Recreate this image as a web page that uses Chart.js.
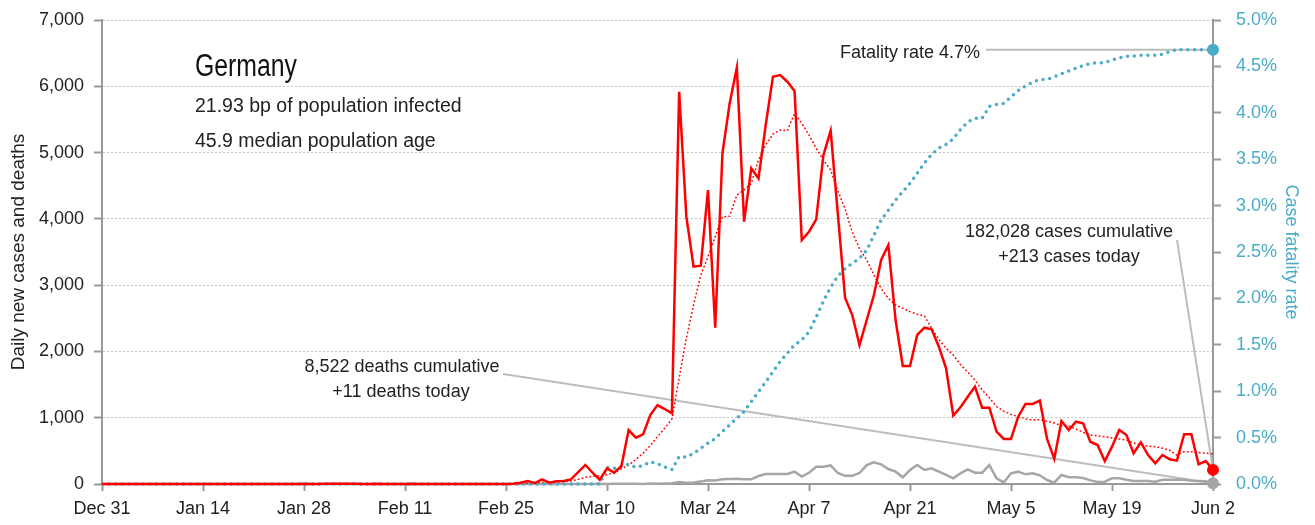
<!DOCTYPE html>
<html>
<head>
<meta charset="utf-8">
<script src="https://cdn.jsdelivr.net/npm/chart.js@4.4.1/dist/chart.umd.min.js"></script>
<style>
  html, body { margin: 0; padding: 0; background: #fff; }
  #wrap { width: 1315px; height: 525px; position: relative; }
</style>
</head>
<body>
<div id="wrap"><canvas id="chart"></canvas></div>
<script>
// Germany — daily cases, deaths and case fatality rate (Dec 31 to Jun 2)

const tickLabels = ['Dec 31', 'Jan 14', 'Jan 28', 'Feb 11', 'Feb 25', 'Mar 10',
    'Mar 24', 'Apr 7', 'Apr 21', 'May 5', 'May 19', 'Jun 2'];

const dailyCases = [
    0, 0, 0, 0, 0, 0, 0, 0, 0, 0,
    0, 0, 0, 0, 0, 0, 0, 0, 0, 0,
    0, 0, 0, 0, 0, 0, 0, 0, 4, 1,
    0, 3, 4, 4, 4, 2, 0, 0, 4, 0,
    0, 0, 0, 2, 0, 0, 0, 0, 0, 0,
    0, 0, 0, 0, 0, 0, 0, 5, 20, 45,
    15, 70, 20, 40, 45, 70, 180, 287, 170, 65,
    236, 171, 271, 814, 699, 749, 1040, 1191, 1131, 1066,
    5918, 4033, 3279, 3294, 4435, 2358, 4988, 5742, 6285, 3957,
    4762, 4611, 5416, 6145, 6170, 6069, 5928, 3681, 3806, 3993,
    4963, 5330, 4070, 2811, 2549, 2097, 2474, 2851, 3379, 3605,
    2474, 1780, 1780, 2248, 2358, 2333, 2071, 1745, 1031, 1157,
    1317, 1468, 1151, 1151, 789, 679, 679, 1016, 1207, 1207,
    1257, 679, 380, 950, 815, 940, 915, 638, 588, 347,
    563, 815, 739, 463, 629, 437, 312, 437, 372, 352,
    750, 750, 297, 347, 213
];

const casesAverage = [
    0, 0, 0, 0, 0, 0, 0, 0, 0, 0,
    0, 0, 0, 0, 0, 0, 0, 0, 0, 0,
    0, 0, 0, 0, 0, 0, 0, 0, 0, 0,
    0, 0, 0, 0, 0, 0, 0, 0, 0, 0,
    0, 0, 0, 0, 0, 0, 0, 0, 0, 0,
    0, 0, 0, 0, 0, 0, 0, 3, 5, 12,
    14, 24, 26, 32, 35, 45, 70, 100, 115, 125,
    140, 170, 230, 286, 370, 463, 580, 714, 840, 980,
    1600, 2200, 2700, 3150, 3430, 3730, 4030, 4040, 4360, 4435,
    4535, 4888, 5114, 5280, 5340, 5330, 5591, 5440, 5265, 5064,
    4888, 4737, 4420, 4150, 3800, 3550, 3379, 3153, 2950, 2800,
    2700, 2650, 2600, 2560, 2534, 2350, 2180, 2050, 1946, 1800,
    1690, 1569, 1420, 1300, 1167, 1100, 1050, 1016, 985, 965,
    970, 945, 920, 880, 875, 830, 780, 740, 725, 714,
    695, 680, 664, 620, 590, 570, 563, 540, 510, 437,
    487, 487, 475, 465, 452
];

const dailyDeaths = [
    0, 0, 0, 0, 0, 0, 0, 0, 0, 0,
    0, 0, 0, 0, 0, 0, 0, 0, 0, 0,
    0, 0, 0, 0, 0, 0, 0, 0, 0, 0,
    0, 0, 0, 0, 0, 0, 0, 0, 0, 0,
    0, 0, 0, 0, 0, 0, 0, 0, 0, 0,
    0, 0, 0, 0, 0, 0, 0, 0, 0, 0,
    0, 0, 0, 0, 0, 0, 0, 0, 0, 2,
    0, 3, 2, 5, 4, 1, 8, 4, 8, 11,
    31, 20, 21, 37, 55, 53, 71, 75, 80, 71,
    71, 120, 150, 150, 150, 150, 186, 111, 170, 261,
    261, 280, 166, 123, 123, 166, 286, 326, 296, 226,
    186, 101, 211, 286, 211, 236, 186, 136, 85, 161,
    221, 171, 171, 286, 85, 25, 161, 186, 146, 161,
    131, 60, 20, 136, 101, 100, 90, 55, 30, 35,
    85, 85, 65, 45, 45, 45, 35, 65, 65, 65,
    65, 50, 45, 40, 11
];

// case fatality rate, %
const fatalityRate = [
    0, 0, 0, 0, 0, 0, 0, 0, 0, 0,
    0, 0, 0, 0, 0, 0, 0, 0, 0, 0,
    0, 0, 0, 0, 0, 0, 0, 0, 0, 0,
    0, 0, 0, 0, 0, 0, 0, 0, 0, 0,
    0, 0, 0, 0, 0, 0, 0, 0, 0, 0,
    0, 0, 0, 0, 0, 0, 0, 0, 0, 0,
    0, 0, 0, 0, 0, 0, 0, 0, 0, 0,
    0.18, 0.17, 0.19, 0.215, 0.18, 0.2, 0.24, 0.22, 0.185, 0.155,
    0.295, 0.29, 0.33, 0.385, 0.44, 0.49, 0.565, 0.635, 0.71, 0.78,
    0.887, 0.995, 1.10, 1.21, 1.32, 1.41, 1.50, 1.55, 1.64, 1.80,
    1.97, 2.12, 2.24, 2.32, 2.38, 2.43, 2.52, 2.68, 2.845, 2.95,
    3.06, 3.15, 3.24, 3.35, 3.46, 3.55, 3.62, 3.66, 3.72, 3.82,
    3.90, 3.94, 3.94, 4.07, 4.09, 4.10, 4.17, 4.24, 4.29, 4.33,
    4.36, 4.36, 4.39, 4.42, 4.45, 4.48, 4.51, 4.53, 4.54, 4.54,
    4.57, 4.59, 4.61, 4.61, 4.62, 4.62, 4.62, 4.63, 4.66, 4.68,
    4.68, 4.68, 4.68, 4.68, 4.68
];

const totalCases = 182028;
const totalDeaths = 8522;
const infectedBp = '21.93';
const medianAge = '45.9';

// one category per day
const days = [];
const start = new Date(2019, 11, 31);
const monthNames = ['Jan', 'Feb', 'Mar', 'Apr', 'May', 'Jun', 'Jul', 'Aug', 'Sep', 'Oct', 'Nov', 'Dec'];
for (let i = 0; i < dailyCases.length; i++) {
    const d = new Date(start.getFullYear(), start.getMonth(), start.getDate() + i);
    days.push(monthNames[d.getMonth()] + ' ' + d.getDate());
}

const RED = '#ff0000';
const GREY = '#a6a6a6';
const TEAL = '#4bacc6';
const AXIS = '#999999';
const TEXT = '#222222';
const FONT = "'Liberation Sans', Arial, sans-serif";
const last = dailyCases.length - 1;

const endDot = (r) => (ctx) => ctx.dataIndex === last ? r : 0;
const fmt = (n) => n.toLocaleString('en-US');

// fixed axis sizes so the plot area lands where the original has it
const fixWidth = (w) => (scale) => {
    scale.width = w;
    scale.paddingTop = 0;
    scale.paddingBottom = 0;
};

// leader lines under the series, texts on top
const notes = {
    id: 'notes',
    beforeDatasetsDraw(chart) {
        const ctx = chart.ctx;
        const casePt = chart.getDatasetMeta(0).data[last];
        const ratePt = chart.getDatasetMeta(1).data[last];
        const deathPt = chart.getDatasetMeta(3).data[last];
        ctx.save();
        ctx.strokeStyle = '#bdbdbd';
        ctx.lineWidth = 2;
        const seg = (x1, y1, x2, y2) => {
            ctx.beginPath();
            ctx.moveTo(x1, y1);
            ctx.lineTo(x2, y2);
            ctx.stroke();
        };
        seg(986, ratePt.y, ratePt.x, ratePt.y);
        seg(1177, 240, casePt.x, casePt.y);
        seg(503, 374, deathPt.x, deathPt.y);
        ctx.restore();
    },
    afterDatasetsDraw(chart) {
        const ctx = chart.ctx;
        ctx.save();
        ctx.fillStyle = TEXT;
        ctx.textBaseline = 'alphabetic';
        ctx.textAlign = 'left';

        // no condensed face installed, so squeeze the title a little
        ctx.save();
        ctx.translate(195, 76);
        ctx.scale(0.8, 1);
        ctx.font = '31px ' + FONT;
        ctx.fillStyle = '#111';
        ctx.fillText('Germany', 0, 0);
        ctx.restore();

        ctx.font = '19.5px ' + FONT;
        ctx.fillText(infectedBp + ' bp of population infected', 195, 112);
        ctx.fillText(medianAge + ' median population age', 195, 147);

        ctx.font = '18px ' + FONT;
        ctx.textAlign = 'right';
        ctx.fillText('Fatality rate ' + fatalityRate[last].toFixed(1) + '%', 980, 58);

        ctx.textAlign = 'center';
        ctx.fillText(fmt(totalCases) + ' cases cumulative', 1069, 237);
        ctx.fillText('+' + fmt(dailyCases[last]) + ' cases today', 1069, 262);
        ctx.fillText(fmt(totalDeaths) + ' deaths cumulative', 402, 372);
        ctx.fillText('+' + fmt(dailyDeaths[last]) + ' deaths today', 401, 397);
        ctx.restore();
    }
};

Chart.defaults.font.family = FONT;
Chart.defaults.font.size = 18;
Chart.defaults.color = TEXT;

new Chart(document.getElementById('chart'), {
    type: 'line',
    data: {
        labels: days,
        datasets: [
            {
                label: 'Daily new cases',
                data: dailyCases,
                yAxisID: 'y',
                borderColor: RED,
                backgroundColor: RED,
                borderWidth: 2.5,
                pointRadius: endDot(6),
                pointBorderWidth: 0,
                tension: 0,
                clip: false
            },
            {
                label: 'Case fatality rate',
                data: fatalityRate,
                yAxisID: 'y1',
                borderColor: TEAL,
                backgroundColor: TEAL,
                borderWidth: 3.5,
                borderDash: [0, 6.8],
                borderCapStyle: 'round',
                pointRadius: endDot(6),
                pointBorderWidth: 0,
                tension: 0,
                clip: false
            },
            {
                label: '7-day average',
                data: casesAverage,
                yAxisID: 'y',
                borderColor: RED,
                borderWidth: 1.5,
                borderDash: [1.8, 2.2],
                pointRadius: 0,
                tension: 0,
                clip: false
            },
            {
                label: 'Daily new deaths',
                data: dailyDeaths,
                yAxisID: 'y',
                borderColor: GREY,
                backgroundColor: GREY,
                borderWidth: 2.5,
                pointRadius: endDot(6),
                pointBorderWidth: 0,
                tension: 0,
                clip: false
            }
        ]
    },
    options: {
        responsive: true,
        maintainAspectRatio: false,
        animation: false,
        events: [],
        layout: { padding: { top: 20, left: 0, right: 0, bottom: 0 } },
        plugins: {
            legend: { display: false },
            tooltip: { enabled: false }
        },
        scales: {
            x: {
                type: 'category',
                offset: false,
                afterFit: (scale) => { scale.height = 41; },
                border: { color: AXIS, width: 2 },
                grid: {
                    drawOnChartArea: false,
                    tickLength: 7,
                    tickColor: AXIS,
                    tickWidth: 2
                },
                ticks: {
                    autoSkip: false,
                    maxRotation: 0,
                    padding: 7,
                    color: TEXT,
                    callback: (v, i) => (i % 14 === 0 ? tickLabels[i / 14] : null)
                }
            },
            y: {
                position: 'left',
                min: 0,
                max: 7000,
                afterFit: fixWidth(102),
                border: { color: AXIS, width: 2, dash: [2, 2] },
                grid: {
                    color: (c) => (c.tick && c.tick.value === 0 ? 'rgba(0,0,0,0)' : '#c4c4c4'),
                    lineWidth: 1,
                    tickLength: 8,
                    tickColor: AXIS,
                    tickWidth: 2
                },
                ticks: {
                    stepSize: 1000,
                    padding: 10,
                    color: TEXT,
                    callback: (v) => fmt(v)
                },
                title: {
                    display: true,
                    text: 'Daily new cases and deaths',
                    color: TEXT,
                    font: { size: 19 },
                    padding: { top: 7, bottom: 0 }
                }
            },
            y1: {
                position: 'right',
                min: 0,
                max: 5,
                afterFit: fixWidth(102),
                border: { color: AXIS, width: 2 },
                grid: {
                    drawOnChartArea: false,
                    tickLength: 8,
                    tickColor: AXIS,
                    tickWidth: 2
                },
                ticks: {
                    stepSize: 0.5,
                    padding: 15,
                    color: TEAL,
                    callback: (v) => v.toFixed(1) + '%'
                },
                title: {
                    display: true,
                    text: 'Case fatality rate',
                    color: TEAL,
                    padding: { top: 13, bottom: 0 }
                }
            }
        }
    },
    plugins: [notes]
});
</script>
</body>
</html>
